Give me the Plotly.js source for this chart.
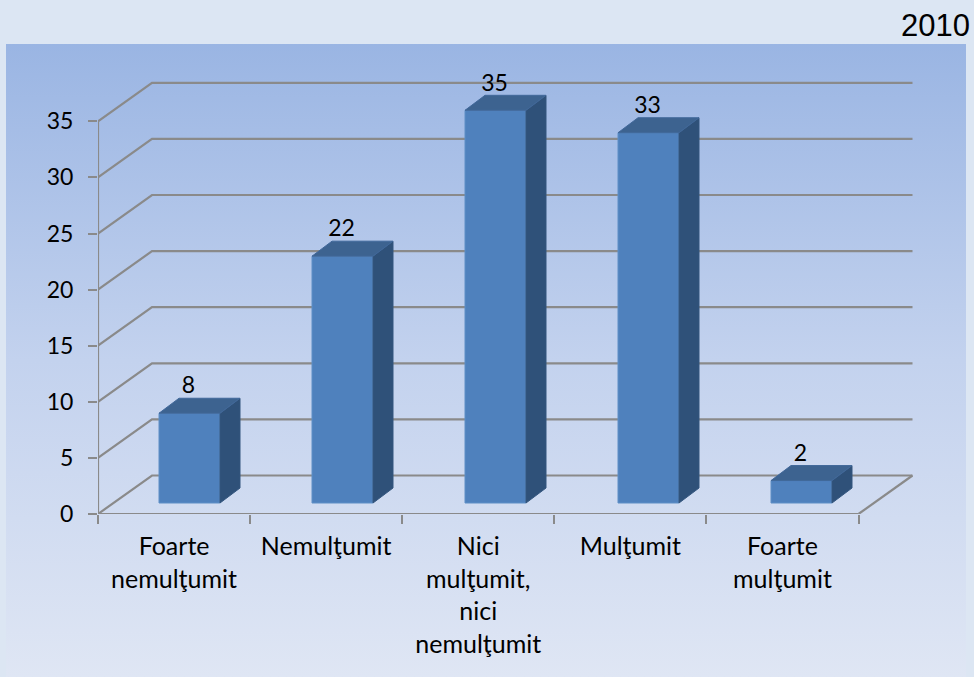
<!DOCTYPE html>
<html>
<head>
<meta charset="utf-8">
<script src="https://cdn.plot.ly/plotly-3.0.1.min.js"></script>
<style>
html,body{margin:0;padding:0;width:974px;height:677px;overflow:hidden;background:#dce6f3;}
#panel{position:absolute;left:6px;top:44px;width:960px;height:633px;
background:linear-gradient(to bottom,#9ab5e3 0%,#c3d2ee 50%,#dfe6f4 100%);}
#chart{position:absolute;left:0;top:0;width:974px;height:677px;}
</style>
</head>
<body>
<div id="panel"></div>
<div id="chart"></div>
<script>
const categories = ["Foarte<br>nemulţumit","Nemulţumit","Nici<br>mulţumit,<br>nici<br>nemulţumit","Mulţumit","Foarte<br>mulţumit"];
const values = [8,22,35,33,2];
const yTicks = [0,5,10,15,20,25,30,35];
const yearLabel = "2010";

// pseudo-3D geometry, expressed in axis units
const pxX = 152.1, pxY = 11.22;
const wallDX = 54/pxX, wallDY = 38.5/pxY;
const barStep = 153/pxX, barShiftX = 15.45/pxX, barBase = 11/pxY, barW = 61/pxX;
const faceDX = 20/pxX, faceDY = 15/pxY;
const xMin = -0.5, xMax = categories.length - 0.5;
const idx = categories.map((_,i)=>i);
const barX = idx.map(i=>i*barStep+barShiftX);
const grey = "#8a8a8a";
const lineW = 2.2;

// back wall and side wall lines
const gx = [], gy = [];
yTicks.forEach(v=>{
  gx.push(xMin, xMin+wallDX, xMax+wallDX, null);
  gy.push(v, v+wallDY, v+wallDY, null);
});
const fx = [xMax, xMax+wallDX], fy = [0, wallDY];

// bar side and top faces
const sx=[], sy=[], tx=[], ty=[];
values.forEach((v,i)=>{
  const l=barX[i]-barW/2, r=barX[i]+barW/2, b=barBase, t=barBase+v;
  sx.push(r,r+faceDX,r+faceDX,r,r,null);
  sy.push(b,b+faceDY,t+faceDY,t,b,null);
  tx.push(l,r,r+faceDX,l+faceDX,l,null);
  ty.push(t,t,t+faceDY,t+faceDY,t,null);
});

const traces = [
  {type:"scatter",mode:"lines",x:gx,y:gy,xaxis:"x",yaxis:"y",line:{color:grey,width:lineW},cliponaxis:false,hoverinfo:"skip"},
  {type:"scatter",mode:"lines",x:fx,y:fy,xaxis:"x",yaxis:"y",line:{color:grey,width:lineW},cliponaxis:false,hoverinfo:"skip"},
  {type:"scatter",mode:"lines",x:[xMin,xMin],y:[0,yTicks[yTicks.length-1]],xaxis:"x",yaxis:"y",line:{color:grey,width:lineW},cliponaxis:false,hoverinfo:"skip"},
  {type:"scatter",mode:"lines",x:[xMin,xMax],y:[0,0],xaxis:"x",yaxis:"y",line:{color:grey,width:lineW},cliponaxis:false,hoverinfo:"skip"},
  {type:"bar",x:barX,y:values,base:barBase,width:barW,xaxis:"x2",yaxis:"y2",
   marker:{color:"#4f81bd",line:{color:"#5f8fc6",width:1}},hoverinfo:"skip"},
  {type:"scatter",mode:"lines",x:sx,y:sy,fill:"toself",fillcolor:"#2f5179",xaxis:"x2",yaxis:"y2",line:{color:"#34567f",width:1},hoverinfo:"skip"},
  {type:"scatter",mode:"lines",x:tx,y:ty,fill:"toself",fillcolor:"#3d6390",xaxis:"x2",yaxis:"y2",line:{color:"#41689a",width:1},hoverinfo:"skip"},
  {type:"scatter",mode:"text",x:barX.map(x=>x-1/pxX),y:values.map(v=>v+barBase+faceDY-1/pxY),text:values.map(String),
   textposition:"top center",textfont:{family:"Lato, sans-serif",size:23,color:"#000"},xaxis:"x2",yaxis:"y2",cliponaxis:false,hoverinfo:"skip"}
];

const rx=[xMin, xMin+816/pxX], ry=[0,444/pxY];
const layout = {
  width:974,height:677,margin:{l:98,r:60,t:70,b:163,pad:0},
  paper_bgcolor:"rgba(0,0,0,0)",plot_bgcolor:"rgba(0,0,0,0)",showlegend:false,hovermode:false,
  font:{family:"Lato, sans-serif",size:23,color:"#000"},
  xaxis:{range:rx,tickmode:"array",tickvals:[...idx.map(i=>i-0.5),xMax],ticktext:["","","","","",""],
    ticks:"outside",ticklen:9,tickwidth:lineW,tickcolor:grey,showgrid:false,zeroline:false,showline:false},
  yaxis:{range:ry,tickmode:"array",tickvals:yTicks,ticktext:yTicks.map(String),ticks:"outside",ticklen:9,tickwidth:lineW,
    tickcolor:grey,showgrid:false,zeroline:false,showline:false,ticklabelstandoff:10,tickfont:{family:"Lato, sans-serif",size:23,color:"#000"}},
  xaxis2:{overlaying:"x",anchor:"y2",range:rx,tickmode:"array",tickvals:idx,ticktext:categories,ticks:"",showgrid:false,zeroline:false,showline:false,
    tickangle:0,ticklabelstandoff:15,tickfont:{family:"Lato, sans-serif",size:25,color:"#000"}},
  yaxis2:{overlaying:"y",anchor:"x2",range:ry,showticklabels:false,ticks:"",showgrid:false,zeroline:false,showline:false},
  annotations:[{text:yearLabel,xref:"paper",yref:"paper",x:(972-98)/816,y:(514-25.5)/444,xanchor:"right",yanchor:"middle",showarrow:false,
    font:{family:"Liberation Sans, Arial, sans-serif",size:31,color:"#000"}}]
};
Plotly.newPlot("chart",traces,layout,{displayModeBar:false,responsive:false});
</script>
</body>
</html>
